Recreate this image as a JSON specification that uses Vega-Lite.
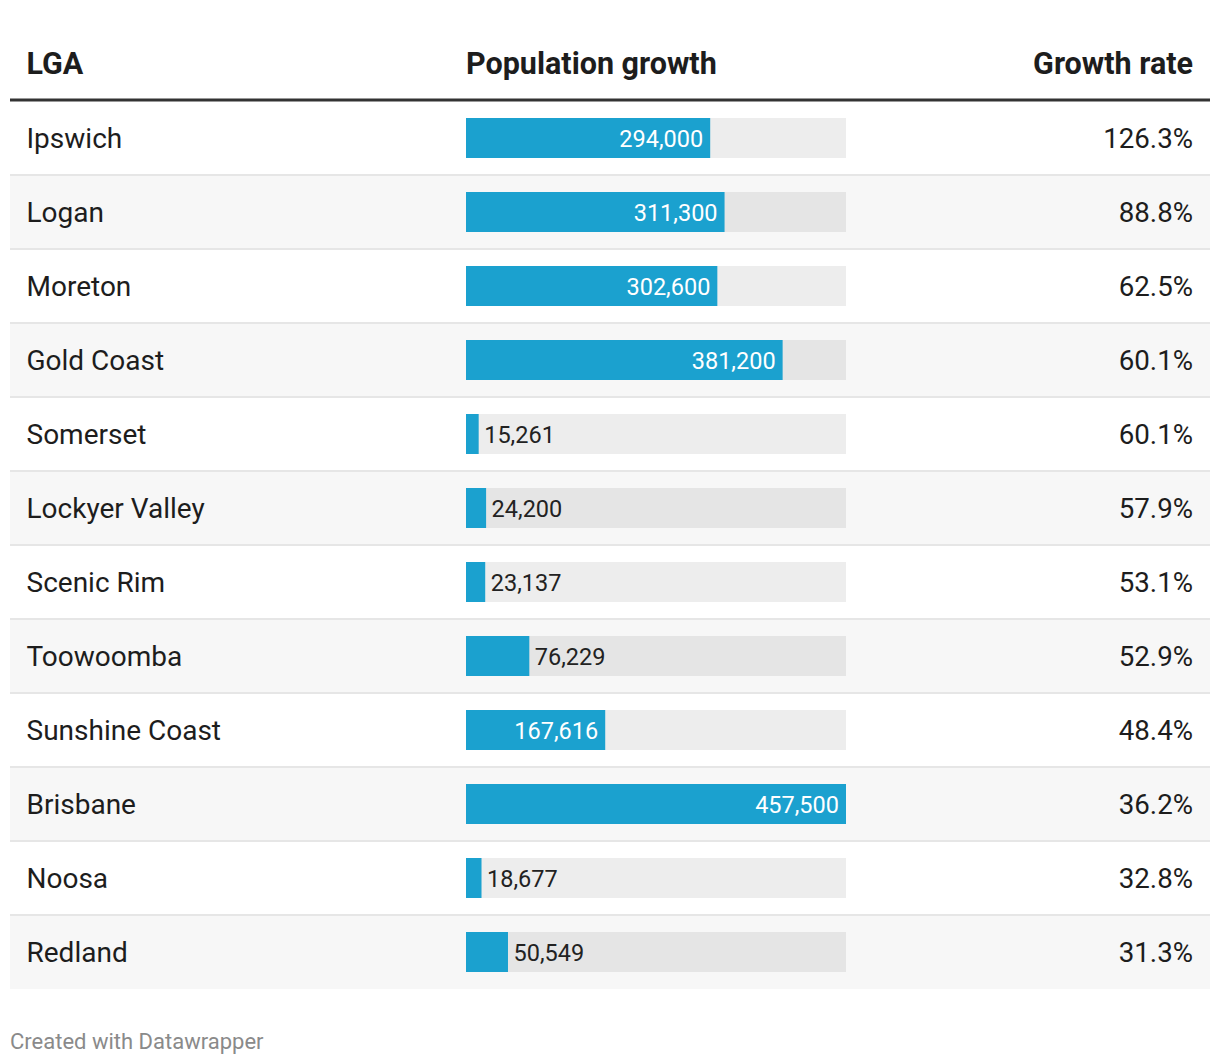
{
  "$schema": "https://vega.github.io/schema/vega-lite/v6.json",
  "width": 1200,
  "height": 962,
  "autosize": "none",
  "padding": {"left": 10, "top": 27, "right": 10, "bottom": 75},
  "background": "white",
  "config": {"view": {"stroke": null}, "font": "Roboto"},
  "title": {"text": "Created with Datawrapper", "orient": "bottom", "anchor": "start", "frame": "group", "fontSize": 22, "fontWeight": "normal", "color": "#8a8a8a", "font": "Roboto", "offset": 43},
  "data": {"values": [
    {"LGA": "Ipswich", "growth": 294000, "rate": 1.263},
    {"LGA": "Logan", "growth": 311300, "rate": 0.888},
    {"LGA": "Moreton", "growth": 302600, "rate": 0.625},
    {"LGA": "Gold Coast", "growth": 381200, "rate": 0.601},
    {"LGA": "Somerset", "growth": 15261, "rate": 0.601},
    {"LGA": "Lockyer Valley", "growth": 24200, "rate": 0.579},
    {"LGA": "Scenic Rim", "growth": 23137, "rate": 0.531},
    {"LGA": "Toowoomba", "growth": 76229, "rate": 0.529},
    {"LGA": "Sunshine Coast", "growth": 167616, "rate": 0.484},
    {"LGA": "Brisbane", "growth": 457500, "rate": 0.362},
    {"LGA": "Noosa", "growth": 18677, "rate": 0.328},
    {"LGA": "Redland", "growth": 50549, "rate": 0.313}
  ]},
  "transform": [{"window": [{"op": "row_number", "as": "i"}]}],
  "encoding": {
    "y": {"field": "LGA", "type": "nominal", "axis": null,
      "scale": {"domain": ["__header", "Ipswich", "Logan", "Moreton", "Gold Coast", "Somerset", "Lockyer Valley", "Scenic Rim", "Toowoomba", "Sunshine Coast", "Brisbane", "Noosa", "Redland"], "paddingInner": 0, "paddingOuter": 0}}
  },
  "layer": [
    {
      "transform": [{"filter": "datum.i % 2 == 0"}],
      "mark": {"type": "rect", "fill": "#f7f7f7"},
      "encoding": {"x": {"value": 0}, "x2": {"value": 1200}}
    },
    {
      "transform": [{"filter": "datum.i > 1"}],
      "mark": {"type": "rule", "stroke": "#e6e6e6", "strokeWidth": 2},
      "encoding": {"y": {"field": "LGA", "type": "nominal", "bandPosition": 0}, "x": {"value": 0}, "x2": {"value": 1200}}
    },
    {
      "transform": [{"filter": "datum.i == 1"}],
      "mark": {"type": "rule", "stroke": "#333333", "strokeWidth": 3, "yOffset": -1},
      "encoding": {"y": {"field": "LGA", "type": "nominal", "bandPosition": 0}, "x": {"value": 0}, "x2": {"value": 1200}}
    },
    {
      "mark": {"type": "bar", "fill": "black", "opacity": 0.07, "size": 40},
      "encoding": {
        "x": {"datum": 457500, "type": "quantitative", "axis": null, "scale": {"domain": [0, 457500], "range": [456, 836], "nice": false, "zero": true}},
        "x2": {"datum": 0}
      }
    },
    {
      "mark": {"type": "bar", "fill": "#1ba1cf", "size": 40},
      "encoding": {
        "x": {"field": "growth", "type": "quantitative", "axis": null, "scale": {"domain": [0, 457500], "range": [456, 836], "nice": false, "zero": true}}
      }
    },
    {
      "transform": [{"filter": "datum.growth >= 100000"}],
      "mark": {"type": "text", "align": "right", "baseline": "middle", "dx": -7, "dy": 2, "fontSize": 23.5, "fill": "white", "font": "Roboto"},
      "encoding": {
        "x": {"field": "growth", "type": "quantitative"},
        "text": {"field": "growth", "type": "quantitative", "format": ","}
      }
    },
    {
      "transform": [{"filter": "datum.growth < 100000"}],
      "mark": {"type": "text", "align": "left", "baseline": "middle", "dx": 5.5, "dy": 2, "fontSize": 23.5, "fill": "#222222", "font": "Roboto"},
      "encoding": {
        "x": {"field": "growth", "type": "quantitative"},
        "text": {"field": "growth", "type": "quantitative", "format": ","}
      }
    },
    {
      "mark": {"type": "text", "align": "left", "baseline": "middle", "dy": 2, "fontSize": 28, "fill": "#1d1d1d", "font": "Roboto"},
      "encoding": {"x": {"value": 16.5}, "text": {"field": "LGA", "type": "nominal"}}
    },
    {
      "mark": {"type": "text", "align": "right", "baseline": "middle", "dy": 2, "fontSize": 27.7, "fill": "#1d1d1d", "font": "Roboto"},
      "encoding": {"x": {"value": 1183}, "text": {"field": "rate", "type": "quantitative", "format": ".1%"}}
    },
    {
      "data": {"values": [{"LGA": "__header", "c1": "LGA", "c2": "Population growth", "c3": "Growth rate"}]},
      "layer": [
        {
          "mark": {"type": "text", "align": "left", "baseline": "middle", "dy": 1, "fontSize": 30.5, "fontWeight": "bold", "fill": "#1d1d1d", "font": "Roboto"},
          "encoding": {"x": {"value": 16.5}, "text": {"field": "c1", "type": "nominal"}}
        },
        {
          "mark": {"type": "text", "align": "left", "baseline": "middle", "dy": 1, "fontSize": 30.5, "fontWeight": "bold", "fill": "#1d1d1d", "font": "Roboto"},
          "encoding": {"x": {"value": 456}, "text": {"field": "c2", "type": "nominal"}}
        },
        {
          "mark": {"type": "text", "align": "right", "baseline": "middle", "dy": 1, "fontSize": 30.5, "fontWeight": "bold", "fill": "#1d1d1d", "font": "Roboto"},
          "encoding": {"x": {"value": 1183}, "text": {"field": "c3", "type": "nominal"}}
        }
      ]
    }
  ]
}
